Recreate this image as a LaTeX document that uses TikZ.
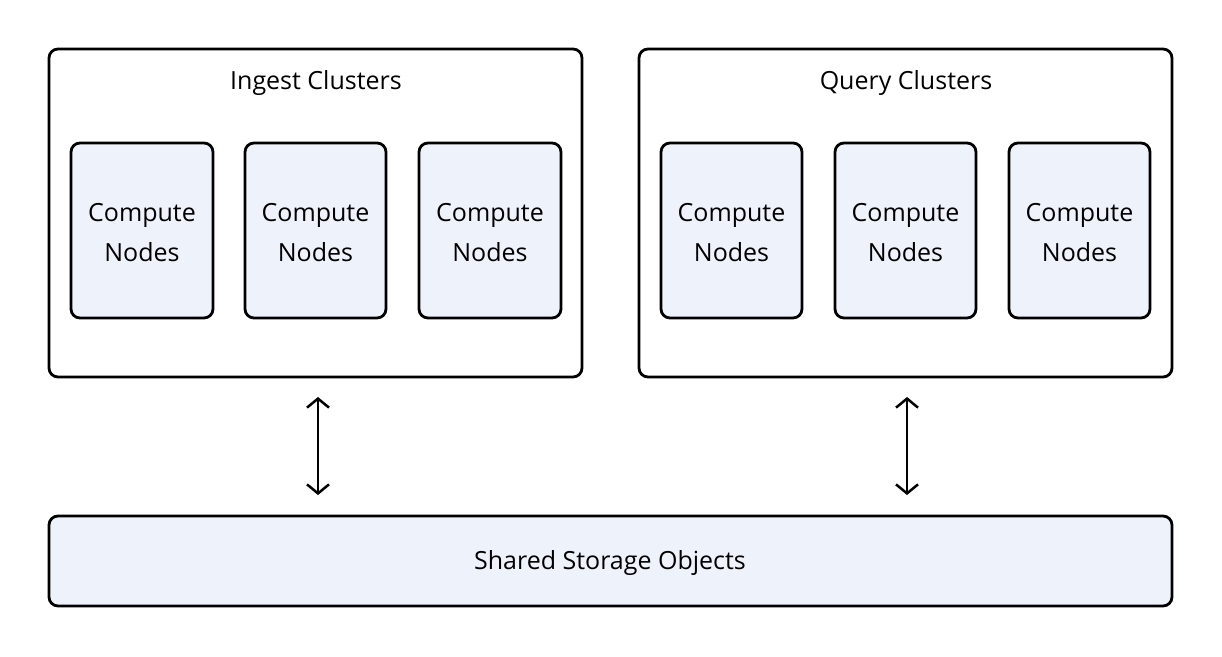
\documentclass[tikz,border=0pt]{standalone}
\usepackage{fontspec}
\setmainfont{Open Sans}
\usetikzlibrary{arrows.meta}
\definecolor{boxfill}{HTML}{EEF2FB}
\begin{document}
\begin{tikzpicture}[x=1pt,y=-1pt,
  outer/.style={draw,line width=2.8pt,rounded corners=9pt},
  inner/.style={draw,line width=2.8pt,rounded corners=9pt,fill=boxfill},
  lbl/.style={font=\fontsize{25}{40}\selectfont,align=center},
  arr/.style={{Stealth[length=14pt,width=14pt,inset=0pt,open]}-{Stealth[length=14pt,width=14pt,inset=0pt,open]},line width=2.5pt}]
\useasboundingbox (0,0) rectangle (1222,656);
\draw[outer] (49,49) rectangle (582,377);
\draw[outer] (639,49) rectangle (1172,377);
\node[lbl] (ti) at (316,83) {Ingest Clusters};
\node[lbl] (tq) at (906,83) {Query Clusters};
\foreach \a/\b/\n in {71/213/i1,245/386/i2,419/561/i3,661/802/q1,835/976/q2,1009/1150/q3}{
  \draw[inner] (\a,143) rectangle (\b,318);
  \node[lbl] (\n) at ({(\a+\b)/2},233) {Compute\\Nodes};
}
\draw[inner] (49,516) rectangle (1172,606);
\node[lbl] (st) at (610,563) {Shared Storage Objects};
\coordinate (a1) at (318,397); \coordinate (b1) at (318,495);
\coordinate (a2) at (907,397); \coordinate (b2) at (907,495);
\draw[line width=2.5pt,{Straight Barb[length=9pt,width=22pt]}-{Straight Barb[length=9pt,width=22pt]}] (a1) -- (b1);
\draw[line width=2.5pt,{Straight Barb[length=9pt,width=22pt]}-{Straight Barb[length=9pt,width=22pt]}] (a2) -- (b2);
\end{tikzpicture}
\end{document}
